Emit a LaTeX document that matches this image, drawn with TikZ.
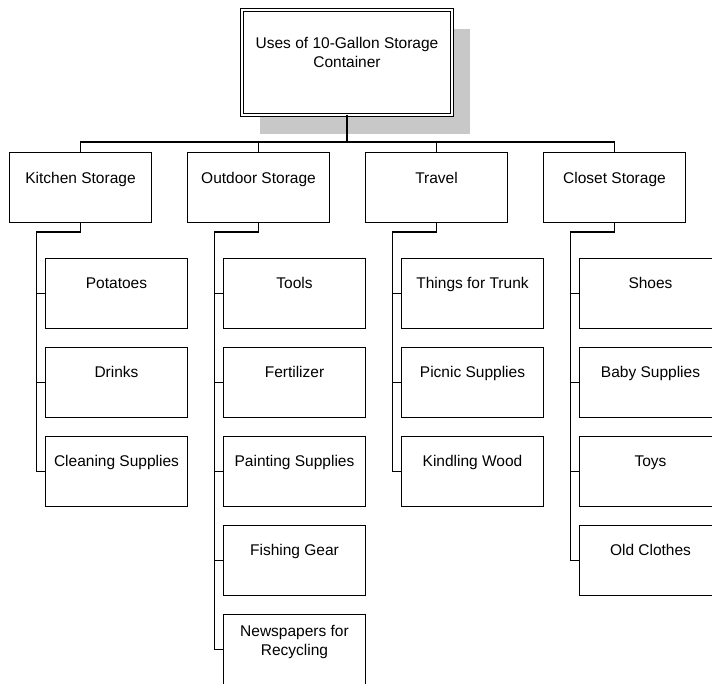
\documentclass[tikz,border=0pt]{standalone}
\usepackage{fontspec}
\setmainfont{Liberation Sans}
\usetikzlibrary{positioning,shadows}
\definecolor{shadowgray}{RGB}{200,200,200}
\begin{document}
\begin{tikzpicture}[x=1pt,y=-1pt,
  box/.style={draw, line width=1.4pt, minimum width=142pt, minimum height=70pt, inner sep=0pt, outer sep=0pt, anchor=north west},
  topbox/.style={draw, double, double distance=1.8pt, line width=1pt, minimum width=210pt, minimum height=105pt, inner sep=0pt, outer sep=0pt, fill=white, drop shadow={shadow xshift=18pt, shadow yshift=-19pt, fill=shadowgray, opacity=1}},
  lbl/.style={font=\fontsize{15.5}{19.5}\selectfont, align=center, inner sep=0pt, anchor=north},
  conn/.style={line width=1.4pt}]
\clip (0,0) rectangle (712,683);
% top
\node[topbox] (top) at (347,62.5) {};
\node[lbl, below=27pt of top.north] (topT) {Uses of 10-Gallon Storage\\Container};
% level 1
\node[box] (kit) at (9.5,152.5) {};
\node[box] (out) at (187.5,152.5) {};
\node[box] (tra) at (365.5,152.5) {};
\node[box] (clo) at (543.5,152.5) {};
\node[lbl, below=19.5pt of kit.north] (kitT) {Kitchen Storage};
\node[lbl, below=19.5pt of out.north] (outT) {Outdoor Storage};
\node[lbl, below=19.5pt of tra.north] (traT) {Travel};
\node[lbl, below=19.5pt of clo.north] (cloT) {Closet Storage};
% kitchen children
\node[box] (k1) at (45.5,258.5) {};
\node[box] (k2) at (45.5,347.5) {};
\node[box] (k3) at (45.5,436.5) {};
\node[lbl, below=19pt of k1.north] (k1T) {Potatoes};
\node[lbl, below=19pt of k2.north] (k2T) {Drinks};
\node[lbl, below=19pt of k3.north] (k3T) {Cleaning Supplies};
% outdoor children
\node[box] (o1) at (223.5,258.5) {};
\node[box] (o2) at (223.5,347.5) {};
\node[box] (o3) at (223.5,436.5) {};
\node[box] (o4) at (223.5,525.5) {};
\node[box] (o5) at (223.5,614.5) {};
\node[lbl, below=19pt of o1.north] (o1T) {Tools};
\node[lbl, below=19pt of o2.north] (o2T) {Fertilizer};
\node[lbl, below=19pt of o3.north] (o3T) {Painting Supplies};
\node[lbl, below=19pt of o4.north] (o4T) {Fishing Gear};
\node[lbl, below=10.5pt of o5.north] (o5T) {Newspapers for\\Recycling};
% travel children
\node[box] (t1) at (401.5,258.5) {};
\node[box] (t2) at (401.5,347.5) {};
\node[box] (t3) at (401.5,436.5) {};
\node[lbl, below=19pt of t1.north] (t1T) {Things for Trunk};
\node[lbl, below=19pt of t2.north] (t2T) {Picnic Supplies};
\node[lbl, below=19pt of t3.north] (t3T) {Kindling Wood};
% closet children
\node[box] (c1) at (579.5,258.5) {};
\node[box] (c2) at (579.5,347.5) {};
\node[box] (c3) at (579.5,436.5) {};
\node[box] (c4) at (579.5,525.5) {};
\node[lbl, below=19pt of c1.north] (c1T) {Shoes};
\node[lbl, below=19pt of c2.north] (c2T) {Baby Supplies};
\node[lbl, below=19pt of c3.north] (c3T) {Toys};
\node[lbl, below=19pt of c4.north] (c4T) {Old Clothes};
% bus
\coordinate (bus) at (347,142);
\draw[conn] (top.south) -- (top.south |- bus);
\draw[conn] (kit.north) -- (kit.north |- bus) -| (clo.north);
\draw[conn] (out.north) -- (out.north |- bus);
\draw[conn] (tra.north) -- (tra.north |- bus);
% child trunks
\foreach \p/\last in {kit/k3, out/o5, tra/t3, clo/c4}{
  \draw[conn] (\p.south) -- ++(0,9.5) -| ([xshift=-9pt]\last.west) -- (\last.west);
}
\foreach \c in {k1,k2,o1,o2,o3,o4,t1,t2,c1,c2,c3}{
  \draw[conn] ([xshift=-9pt]\c.west) -- (\c.west);
}
\end{tikzpicture}
\end{document}
